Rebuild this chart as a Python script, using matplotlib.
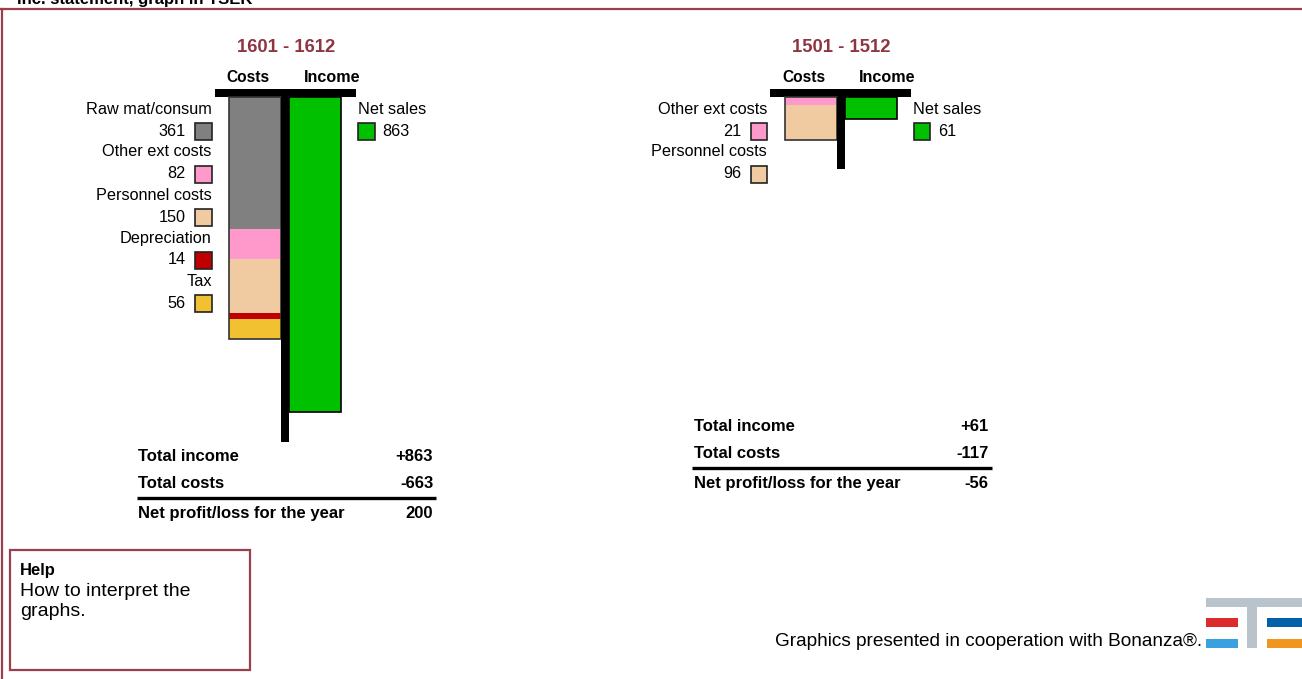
"""
Income statement T-graphs (TSEK), two periods side by side.
"""

import matplotlib
matplotlib.use('Agg')
import matplotlib.pyplot as plt
from matplotlib.patches import Rectangle

# ---- data -------------------------------------------------------------
periods = ['1601 - 1612', '1501 - 1512']

cost_labels = [
    ['Raw mat/consum', 'Other ext costs', 'Personnel costs', 'Depreciation', 'Tax'],
    ['Other ext costs', 'Personnel costs'],
]
cost_values = [
    [361, 82, 150, 14, 56],
    [21, 96],
]
income_labels = [['Net sales'], ['Net sales']]
income_values = [[863], [61]]

item_colors = {
    'Raw mat/consum': '#808080',
    'Other ext costs': '#FF99CC',
    'Personnel costs': '#F0CAA0',
    'Depreciation': '#C00000',
    'Tax': '#F2C132',
    'Net sales': '#00C000',
}

# ---- layout (pixels, figure is 1302 x 679) ----------------------------
W, H = 1302, 679
DPI = 100
FRAME_COLOR = '#9A3F4E'
TITLE_COLOR = '#8E3442'
FONT = 'Liberation Sans'
FS = 11.7        # regular text
FS_B = 12        # bold table text

centers = [285.2, 840.5]        # x of the T spine for each panel
table_tops = [456.7, 426.7]     # y of first table row for each panel
PX_PER_UNIT = 0.365             # vertical scale of the bars
T_TOP, T_THICK = 89, 8          # the horizontal bar of the T
T_HALF = 70.5
SPINE_EXTRA = 81                # spine runs this far below the longest bar
AX_BOTTOM = 620

fig = plt.figure(figsize=(W / DPI, H / DPI), dpi=DPI)
base = fig.add_axes([0, 0, 1, 1])
base.set_xlim(0, W)
base.set_ylim(H, 0)
base.axis('off')

# outer frame and page title (cut by the top edge, as in the source page)
base.plot([0, W], [9, 9], color=FRAME_COLOR, linewidth=1.6)
base.plot([1.5, 1.5], [9, H], color=FRAME_COLOR, linewidth=1.6)
base.text(17, 4, 'Inc. statement, graph in TSEK', fontsize=12, fontweight='bold',
          family=FONT, va='baseline', ha='left')


def draw_panel(i):
    cx = centers[i]
    costs = cost_values[i]
    incomes = income_values[i]
    total_costs = sum(costs)
    total_income = sum(incomes)
    net = total_income - total_costs

    # chart axes: x in pixels relative to the spine, y in TSEK downwards
    y_top = -T_THICK / PX_PER_UNIT
    y_bot = y_top + (AX_BOTTOM - T_TOP) / PX_PER_UNIT
    ax = fig.add_axes([(cx - T_HALF) / W, 1 - AX_BOTTOM / H,
                       2 * T_HALF / W, (AX_BOTTOM - T_TOP) / H])
    ax.set_xlim(-T_HALF, T_HALF)
    ax.set_ylim(y_bot, y_top)
    ax.axis('off')

    # top of the T
    ax.axhspan(y_top, 0, color='black', linewidth=0)

    # stacked costs
    bottom = 0
    for lab, val in zip(cost_labels[i], costs):
        ax.bar(-30, val, bottom=bottom, width=52, color=item_colors[lab], linewidth=0)
        bottom += val
    ax.bar(-30, total_costs, width=52, fill=False, edgecolor='#333333', linewidth=1.2)

    # income
    bottom = 0
    for lab, val in zip(income_labels[i], incomes):
        ax.bar(30, val, bottom=bottom, width=52, color=item_colors[lab],
               edgecolor='black', linewidth=1.2)
        bottom += val

    # spine
    ax.bar(0, max(total_costs, total_income) + SPINE_EXTRA, width=8, color='black', linewidth=0)

    # headings
    base.text(cx + 1, 47, periods[i], fontsize=13.3, fontweight='bold', color=TITLE_COLOR,
              family=FONT, ha='center', va='center')
    base.text(cx - 36.8, 78, 'Costs', fontsize=11.2, fontweight='bold', family=FONT,
              ha='center', va='center')
    base.text(cx + 47, 78, 'Income', fontsize=11.6, fontweight='bold', family=FONT,
              ha='center', va='center')

    # cost legend (left side)
    for k, (lab, val) in enumerate(zip(cost_labels[i], costs)):
        y_lab = 109 + 43 * k
        y_val = y_lab + 22
        base.text(cx - 73.5, y_lab, lab, fontsize=FS, family=FONT, ha='right', va='center')
        base.text(cx - 99.5, y_val, f'{val}', fontsize=FS, family=FONT, ha='right', va='center')
        base.add_patch(Rectangle((cx - 90, y_val - 8.5), 16.5, 17,
                                 facecolor=item_colors[lab], edgecolor='#222222', linewidth=1.2))

    # income legend (right side)
    for k, (lab, val) in enumerate(zip(income_labels[i], incomes)):
        y_lab = 109 + 43 * k
        y_val = y_lab + 22
        base.text(cx + 72.5, y_lab, lab, fontsize=FS, family=FONT, ha='left', va='center')
        base.text(cx + 97.5, y_val, f'{val}', fontsize=FS, family=FONT, ha='left', va='center')
        base.add_patch(Rectangle((cx + 73, y_val - 8.5), 16.5, 17,
                                 facecolor=item_colors[lab], edgecolor='#222222', linewidth=1.2))

    # summary table
    ty = table_tops[i]
    rows = [('Total income', f'+{total_income}'),
            ('Total costs', f'-{total_costs}')]
    for k, (lab, txt) in enumerate(rows):
        base.text(cx - 147, ty + 26.7 * k, lab, fontsize=FS_B, fontweight='bold',
                  family=FONT, ha='left', va='center')
        base.text(cx + 148, ty + 26.7 * k, txt, fontsize=FS_B, fontweight='bold',
                  family=FONT, ha='right', va='center')
    line_y = ty + 26.7 + 15
    base.plot([cx - 148.5, cx + 151], [line_y, line_y], color='black', linewidth=2.4,
              solid_capstyle='butt')
    base.text(cx - 147, line_y + 15.5, 'Net profit/loss for the year', fontsize=FS_B,
              fontweight='bold', family=FONT, ha='left', va='center')
    base.text(cx + 148, line_y + 15.5, f'{net}', fontsize=FS_B, fontweight='bold',
              family=FONT, ha='right', va='center')


for i in range(len(periods)):
    draw_panel(i)

# help box
base.add_patch(Rectangle((10, 549.5), 240, 120, fill=False, edgecolor=FRAME_COLOR, linewidth=1.6))
base.text(20, 571, 'Help', fontsize=12, fontweight='bold', family=FONT, ha='left', va='center')
base.text(20, 591, 'How to interpret the', fontsize=14, family=FONT, ha='left', va='center')
base.text(20, 612, 'graphs.', fontsize=14, family=FONT, ha='left', va='center')

# footer with logo
base.text(1202, 641, 'Graphics presented in cooperation with Bonanza®.', fontsize=13.7,
          family=FONT, ha='right', va='center')
base.add_patch(Rectangle((1206, 598), 96, 9, color='#B8C3CC', linewidth=0))
base.add_patch(Rectangle((1247, 598), 10, 50, color='#B8C3CC', linewidth=0))
base.add_patch(Rectangle((1206, 618), 32, 9, color='#DC2B2B', linewidth=0))
base.add_patch(Rectangle((1267, 618), 35, 9, color='#0060A8', linewidth=0))
base.add_patch(Rectangle((1206, 639), 32, 9, color='#3AA0E0', linewidth=0))
base.add_patch(Rectangle((1267, 639), 35, 9, color='#F0961E', linewidth=0))

fig.savefig('out.png', dpi=DPI)
